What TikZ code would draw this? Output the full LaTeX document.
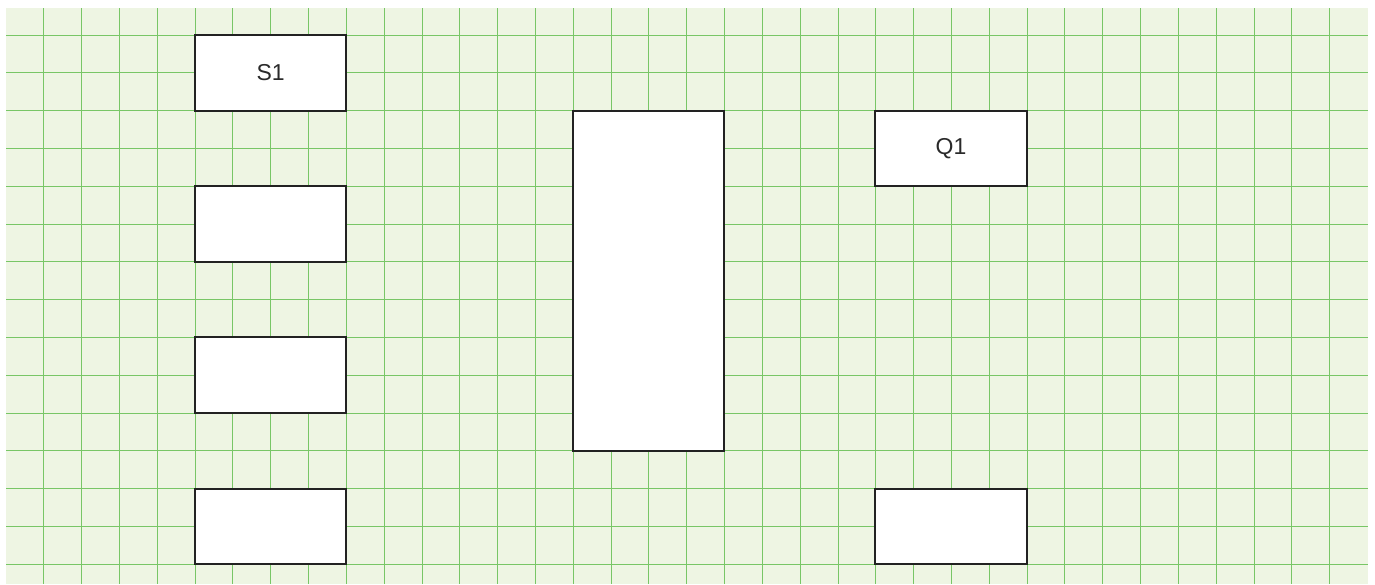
\documentclass[tikz,border=0pt]{standalone}
\usepackage{fontspec}
\setmainfont{Liberation Sans}
\definecolor{bgfill}{HTML}{EEF5E3}
\definecolor{gridgreen}{HTML}{78C666}
\definecolor{boxline}{HTML}{222222}
\definecolor{txt}{HTML}{2A2A2A}
\tikzset{
  blockbox/.style={draw=boxline, line width=2pt, fill=white, minimum width=151.3pt, minimum height=75.6pt, inner sep=0pt, font=\fontsize{23}{26}\selectfont, text=txt},
  tallbox/.style={blockbox, minimum height=340.3pt},
  gridline/.style={draw=gridgreen, line width=1pt}
}
\begin{document}
\begin{tikzpicture}[x=1pt,y=-1pt]
\useasboundingbox (0,0) rectangle (1375,584);
\fill[bgfill] (6,8) rectangle (1367.5,584);
\foreach \k in {1,...,35} {
  \draw[gridline] ({6+37.82*\k},8) -- ({6+37.82*\k},584);
}
\foreach \k in {0,...,14} {
  \draw[gridline] (6,{35+37.8*\k}) -- (1367.5,{35+37.8*\k});
}
\node[blockbox] (s1) at (270.6,72.8) {S1};
\node[blockbox] (b2) at (270.6,224) {};
\node[blockbox] (b3) at (270.6,375.2) {};
\node[blockbox] (b4) at (270.6,526.4) {};
\node[tallbox] (mid) at (648.6,280.7) {};
\node[blockbox] (q1) at (951,148.4) {Q1};
\node[blockbox] (b5) at (951,526.4) {};
\end{tikzpicture}
\end{document}
